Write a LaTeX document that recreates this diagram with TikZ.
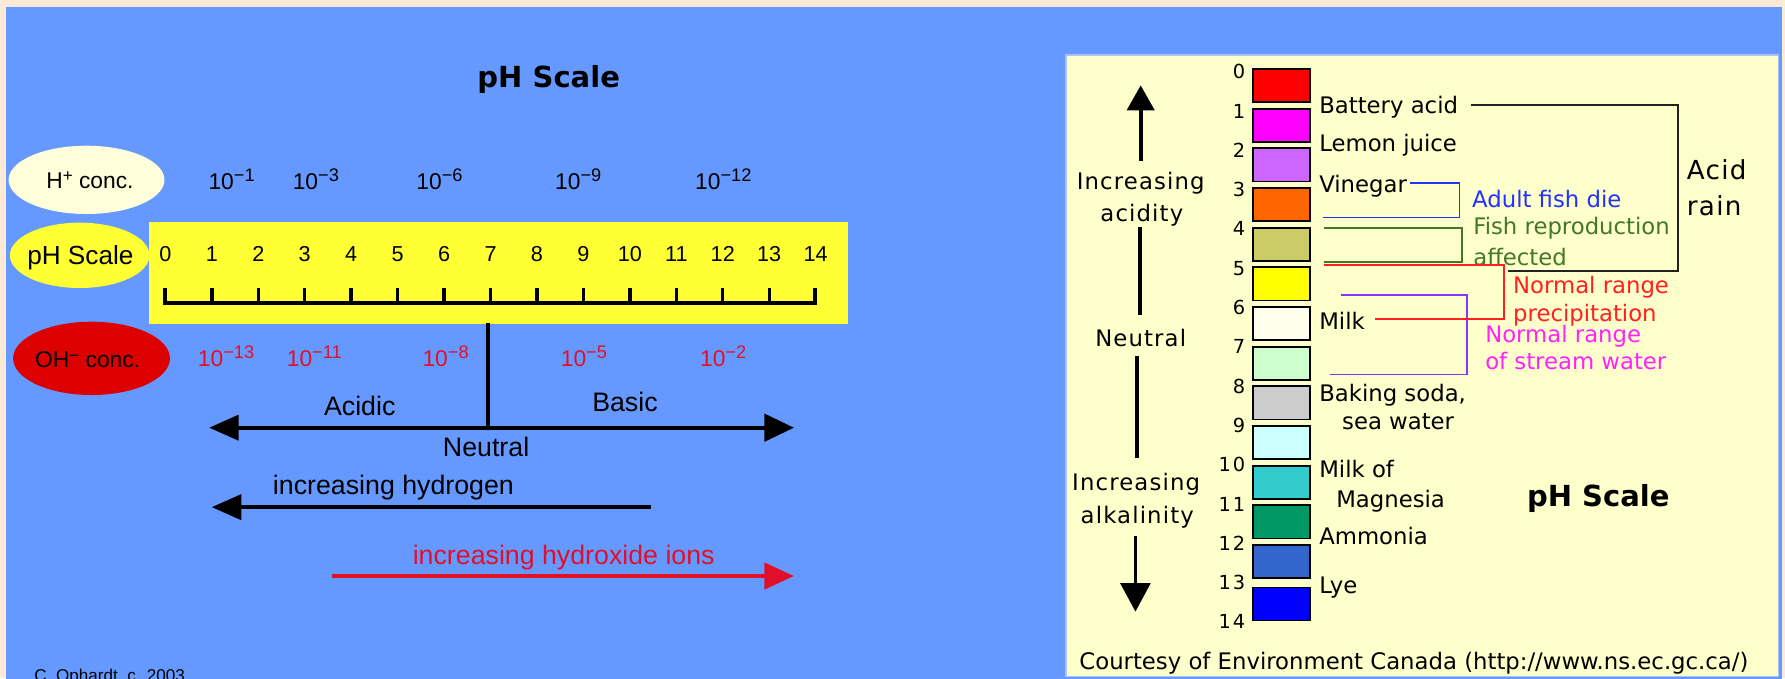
\documentclass[tikz,border=0pt]{standalone}
\usepackage{fontspec}
\setmainfont{Liberation Sans}
\newfontfamily\panelfont{DejaVu Sans}
\newfontfamily\widefont[LetterSpace=5]{DejaVu Sans}
\newfontfamily\numfont[LetterSpace=10]{DejaVu Sans}
\usetikzlibrary{arrows.meta,shapes.geometric}

\definecolor{pagebg}{HTML}{FBEBD6}
\definecolor{skyblue}{HTML}{6699FF}
\definecolor{panelcream}{HTML}{FFFFCC}
\definecolor{paneledge}{HTML}{A9C3F5}
\definecolor{baryellow}{HTML}{FFFF33}
\definecolor{palecream}{HTML}{FFFFDB}
\definecolor{ohred}{HTML}{DD0000}
\definecolor{textred}{HTML}{E0102A}
\definecolor{linkblue}{HTML}{2233FF}
\definecolor{linkgreen}{HTML}{44772A}
\definecolor{linkred}{HTML}{FF2020}
\definecolor{linkpurple}{HTML}{8833FF}
\definecolor{textmagenta}{HTML}{FF22FF}
\definecolor{darkline}{HTML}{222222}

\newcommand{\setsz}[1]{\fontsize{#1}{#1}\selectfont}
\newcommand{\tenpow}[1]{10\raisebox{7pt}{\setsz{16}−#1}}

\begin{document}
\begin{tikzpicture}[x=1pt,y=-1pt,
  ltext/.style={inner sep=0pt,font=\setsz{23.5},text height=16.8pt,text depth=0pt},
  powtext/.style={inner sep=0pt,anchor=west,font=\setsz{20},text height=14.3pt,text depth=0pt},
  bartext/.style={inner sep=0pt,font=\setsz{19},text height=13.6pt,text depth=0pt},
  tagtext/.style={inner sep=0pt,font=\setsz{20},text height=14.3pt,text depth=0pt},
  ptext/.style={inner sep=0pt,anchor=west,font=\panelfont\setsz{20},text height=14.6pt,text depth=0pt},
  stext/.style={inner sep=0pt,font=\widefont\setsz{20},text height=14.6pt,text depth=0pt},
  ntext/.style={inner sep=0pt,anchor=east,font=\numfont\setsz{17},text height=12.4pt,text depth=0pt},
  titletext/.style={inner sep=0pt,font=\panelfont\bfseries\setsz{25.5},text height=18.6pt,text depth=0pt},
  tag/.style={ellipse,inner sep=0pt,draw=none},
  phbox/.style={draw=black,line width=1.6pt,minimum width=49.5pt,minimum height=29.2pt,inner sep=0pt},
  link/.style={line width=1.6pt},
  shaft/.style={line width=3.5pt},
  pshaft/.style={line width=3.2pt},
]
\useasboundingbox (0,0) rectangle (1568,596);
\clip (0,0) rectangle (1568,596);

% page and backdrop
\fill[pagebg] (0,0) rectangle (1568,596);
\fill[skyblue] (5.3,6.2) rectangle (1565.4,600);

% ================= left: pH ruler =================
\node[titletext] (title) at (482,67.4) {pH Scale};

\node[tag,fill=palecream,minimum width=137pt,minimum height=60pt] (hion) at (76,158) {};
\node[tagtext] (hionlbl) at (79,158) {H\raisebox{5.5pt}{\setsz{15}+} conc.};

\node[tag,fill=baryellow,minimum width=122.6pt,minimum height=57.4pt] (phtag) at (70,224.3) {};
\node[tag,fill=ohred,minimum width=137.8pt,minimum height=64.4pt] (ohion) at (80.4,314.8) {};
\node[tagtext] (ohionlbl) at (77,315.6) {OH\raisebox{5.5pt}{\setsz{15}−} conc.};

% yellow ruler
\node[fill=baryellow,minimum width=614.6pt,minimum height=89.3pt,inner sep=0pt,anchor=north west] (bar) at (130.4,194.7) {};
\node[inner sep=0pt,font=\setsz{23},text height=16.5pt,text depth=0pt] (phtaglbl) at (70.6,224) {pH Scale};

\draw[line width=3.5pt] (145.3,253.3) -- (145.3,266.5) -- (716,266.5) -- (716,253.3);
\foreach \i in {1,...,13}
  \draw[line width=3pt] ({145.3+40.8*\i},253.3) -- ({145.3+40.8*\i},266.5);
\foreach \i in {0,...,14}
  \node[bartext] (ph\i) at ({145.3+40.8*\i},222.5) {\i};

% H+ concentrations
\node[powtext] (h1)  at (183,159.6)   {\tenpow{1}};
\node[powtext] (h3)  at (257,159.6)   {\tenpow{3}};
\node[powtext] (h6)  at (365.6,159.6) {\tenpow{6}};
\node[powtext] (h9)  at (487.5,159.6) {\tenpow{9}};
\node[powtext] (h12) at (610.5,159.6) {\tenpow{12}};

% OH- concentrations
\begin{scope}[every node/.append style={text=textred}]
\node[powtext] (oh13) at (173.7,314.6) {\tenpow{13}};
\node[powtext] (oh11) at (251.8,314.6) {\tenpow{11}};
\node[powtext] (oh8)  at (371,314.6)   {\tenpow{8}};
\node[powtext] (oh5)  at (492.5,314.6) {\tenpow{5}};
\node[powtext] (oh2)  at (614.8,314.6) {\tenpow{2}};
\end{scope}

% acidic / basic axis
\coordinate (neutraltop)  at (428.7,284);
\coordinate (neutralfoot) at (428.7,375.7);
\coordinate (acidend) at (183.7,375.7);
\coordinate (baseend) at (697.4,375.7);
\draw[line width=3pt] (neutraltop) -- (neutralfoot);
\draw[shaft,{Triangle[length=26pt,width=22pt]}-{Triangle[length=26pt,width=24pt]}] (acidend) -- (baseend);

\node[ltext] (acidic)  at (316,356.7) {Acidic};
\node[ltext] (basic)   at (549,353)   {Basic};
\node[ltext] (neutral) at (427,392.4) {Neutral};

\node[ltext] (hydrogen) at (345.6,426) {increasing hydrogen};
\coordinate (hstart) at (572,445.5);
\coordinate (hend)   at (186,445.5);
\draw[shaft,-{Triangle[length=26pt,width=22pt]}] (hstart) -- (hend);

\node[ltext,text=textred] (hydroxide) at (495.2,487.5) {increasing hydroxide ions};
\coordinate (ostart) at (291.7,506);
\coordinate (oend)   at (697.4,506);
\draw[shaft,textred,-{Triangle[length=26pt,width=23pt]}] (ostart) -- (oend);

\node[inner sep=0pt,anchor=north west,font=\setsz{15},text height=10.7pt,text depth=0pt] (credit) at (30,587.6) {C. Ophardt, c. 2003};

% ================= right: reference panel =================
\filldraw[fill=panelcream,draw=paneledge,line width=1pt] (936.4,48.3) rectangle (1562.6,594.5);

% colour swatches
\foreach \c [count=\i from 0] in {FF0000,FF00FF,CC66FF,FF6600,CCCC66,FFFF00,FFFFEE,CCFFCC,CCCCCC,CCFFFF,33CCCC,009966,3366CC} {
  \definecolor{boxc}{HTML}{\c}
  \node[phbox,fill=boxc] (box\i) at (1125.75,{60.6+34.84*\i+14.6}) {};
}
\definecolor{boxlast}{HTML}{0000FF}
\node[phbox,fill=boxlast,minimum height=29pt] (box13) at (1125.75,530.5) {};

\foreach \i in {0,...,14}
  \node[ntext] (pn\i) at (1094,{63+34.52*\i}) {\i};

% substance labels
\node[ptext] (battery) at (1158.7,92)    {Battery acid};
\node[ptext] (lemon)   at (1158.7,126)   {Lemon juice};
\node[ptext] (vinegar) at (1158.7,161.6) {Vinegar};
\node[ptext] (milk)    at (1158.7,282.5) {Milk};
\node[ptext] (baking)  at (1158.7,345.5) {Baking soda,};
\node[ptext] (sea)     at (1178.8,369.8) {sea water};
\node[ptext] (milkof)  at (1158.7,412)   {Milk of};
\node[ptext] (magn)    at (1173.6,438.4) {Magnesia};
\node[ptext] (ammonia) at (1158.7,471.4) {Ammonia};
\node[ptext] (lye)     at (1158.7,513.9) {Lye};

% range annotations
\node[ptext,text=linkblue]    (fishdie)  at (1293,175)    {Adult fish die};
\node[ptext,text=linkgreen]   (fishrep)  at (1294,198.6)  {Fish reproduction};
\node[ptext,text=linkgreen]   (affected) at (1294,225.5)  {affected};
\node[ptext,text=linkred]     (normprec) at (1329,250.4)  {Normal range};
\node[ptext,text=linkred]     (precip)   at (1329,275)    {precipitation};
\node[ptext,text=textmagenta] (normstr)  at (1304.5,294)  {Normal range};
\node[ptext,text=textmagenta] (stream)   at (1304.5,317.7){of stream water};

% bracket corners
\coordinate (blkA) at (1292,92);    \coordinate (blkB) at (1474,238);  \coordinate (blkC) at (1325,238);
\coordinate (bluA) at (1239,161);   \coordinate (bluB) at (1282,191);  \coordinate (bluC) at (1162,191);
\coordinate (grnA) at (1163,200);   \coordinate (grnB) at (1284,230);  \coordinate (grnC) at (1163,230);
\coordinate (redA) at (1163,233);   \coordinate (redB) at (1321,280);  \coordinate (redC) at (1208,280);
\coordinate (purA) at (1178,259);   \coordinate (purB) at (1289,329);  \coordinate (purC) at (1168,329);

\draw[link,linkgreen]  (grnA) -| (grnB) -- (grnC);
\draw[link,linkblue]   (bluA) -| (bluB) -- (bluC);
\draw[link,linkpurple] (purA) -| (purB) -- (purC);
\draw[link,linkred]    (redA) -| (redB) -- (redC);
\draw[link,darkline]   (blkA) -| (blkB) -- (blkC);

\node[inner sep=0pt,anchor=west,font=\widefont\setsz{23},text height=16.8pt,text depth=0pt] (acid) at (1481.6,149.3) {Acid};
\node[inner sep=0pt,anchor=west,font=\widefont\setsz{23},text height=16.8pt,text depth=0pt] (rain) at (1481.6,180.7) {rain};

% acidity / alkalinity axis
\node[stext] (incacid)  at (1002,159.6) {Increasing};
\node[stext] (acidity)  at (1003,187)   {acidity};
\node[stext] (pneutral) at (1002,297)   {Neutral};
\node[stext] (incalk)   at (998,424)    {Increasing};
\node[stext] (alkal)    at (999,452.4)  {alkalinity};

\coordinate (upfoot) at (1002,141);   \coordinate (uptip) at (1002,75);
\coordinate (midA) at (1001.5,199.6); \coordinate (midB) at (1001.5,276.7);
\coordinate (lowA) at (999,313);      \coordinate (lowB) at (999,402.5);
\coordinate (dnfoot) at (997.4,471);  \coordinate (dntip) at (997.4,537.3);
\draw[pshaft,-{Triangle[length=22pt,width=24pt]}] (upfoot) -- (uptip);
\draw[pshaft] (midA) -- (midB);
\draw[pshaft] (lowA) -- (lowB);
\draw[pshaft,-{Triangle[length=25pt,width=26pt]}] (dnfoot) -- (dntip);

\node[titletext] (paneltitle) at (1404,436) {pH Scale};
\node[ptext] (courtesy) at (948,581) {Courtesy of Environment Canada (http://www.ns.ec.gc.ca/)};
\end{tikzpicture}
\end{document}
